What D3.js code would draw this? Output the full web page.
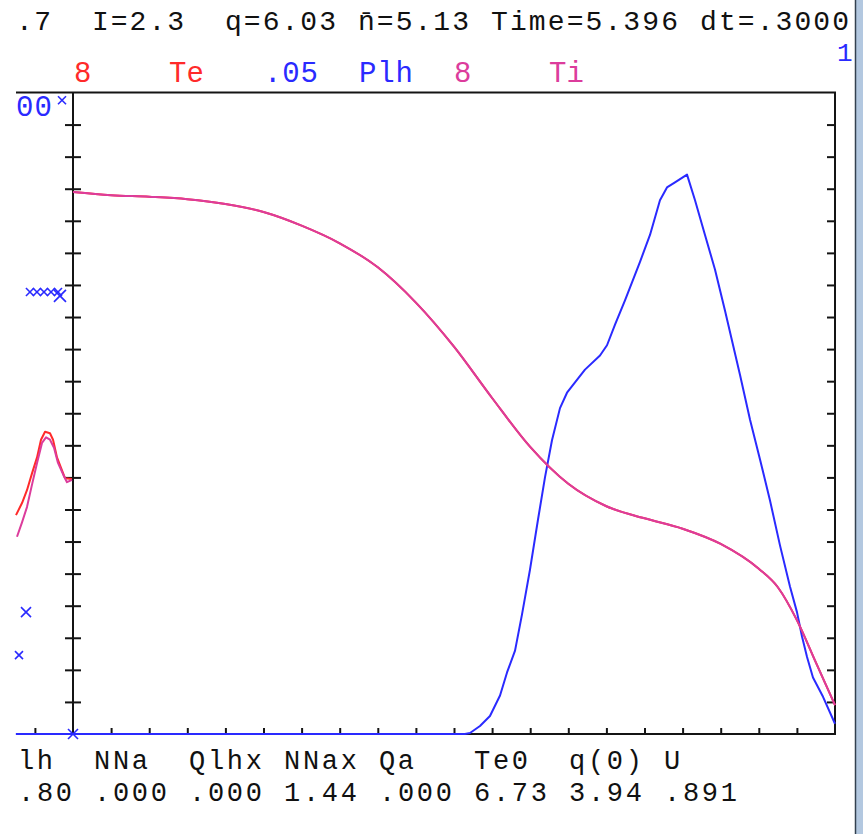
<!DOCTYPE html>
<html><head><meta charset="utf-8">
<script src="https://cdn.jsdelivr.net/npm/d3@7"></script>
<style>
html,body{margin:0;padding:0;background:#fff;}
text{font-family:"Liberation Mono","DejaVu Sans Mono",monospace;}
</style></head>
<body><svg id="c" width="863" height="834"></svg>
<script>
// ---------- data ----------
const headerTokens = [".7","I=2.3","q=6.03","n\u0304=5.13","Time=5.396","dt=.3000"];
const headerCols   = [0, 4, 11, 18, 25, 36];
const legendTokens = ["8","Te",".05","Plh","8","Ti"];
const legendCols   = [0, 5, 10, 15, 20, 25];
const legendKinds  = ["Te","Te","Plh","Plh","Ti","Ti"];
const scaleMax     = {Te: 8, Plh: 0.05, Ti: 8};
const bottomLabels = ["lh","NNa","Qlhx","NNax","Qa","Te0","q(0)","U"];
const bottomValues = [".80",".000",".000","1.44",".000","6.73","3.94",".891"];
const bottomCols   = [0, 4, 9, 14, 19, 24, 29, 34];

// radius grid (normalized) and profiles
const rProf = [0,0.05,0.10,0.15,0.20,0.25,0.30,0.35,0.40,0.45,0.50,0.55,0.60,0.65,0.70,0.75,0.80,0.85,0.90,0.925,0.95,0.975,1.0];
const TiProf = [6.76,6.72,6.70,6.67,6.61,6.51,6.34,6.12,5.82,5.38,4.83,4.19,3.58,3.12,2.84,2.69,2.56,2.37,2.06,1.83,1.42,0.89,0.36];
const TeProf = TiProf;

const rPlh = [-0.075,0.5144,0.521,0.5341,0.5472,0.5604,0.5696,0.5801,0.5892,0.5997,0.6102,0.6194,0.6286,0.6391,0.6483,0.6588,0.6719,0.6916,0.7008,0.7113,0.7244,0.7441,0.7572,0.7703,0.7795,0.79,0.8058,0.8163,0.8294,0.8425,0.8556,0.8753,0.8885,0.9016,0.9147,0.9278,0.9409,0.9501,0.9567,0.9633,0.9711,0.9843,1.0];
const PlhProf = [0,0,0.00008,0.00062,0.0014,0.0030,0.0048,0.0065,0.0093,0.0128,0.0167,0.0200,0.0229,0.0254,0.0266,0.0274,0.0284,0.0295,0.0303,0.0319,0.0338,0.0368,0.0389,0.0416,0.0426,0.0430,0.0436,0.0416,0.0389,0.0362,0.0330,0.0280,0.0245,0.0214,0.0182,0.0147,0.0115,0.0095,0.0076,0.0060,0.0044,0.0029,0.0008];

// small side traces left of the axis
const rSideTe = [-0.0748,-0.0669,-0.0604,-0.0538,-0.0472,-0.042,-0.0367,-0.0302,-0.0262,-0.021,-0.0157,-0.0105,-0.0013];
const TeSide  = [2.73,2.88,3.04,3.25,3.45,3.67,3.77,3.75,3.67,3.45,3.32,3.19,3.18];
const rSideTi = [-0.0735,-0.0669,-0.0604,-0.0538,-0.0472,-0.0407,-0.0354,-0.0302,-0.0249,-0.0197,-0.0131,-0.0079,-0.0013];
const TiSide  = [2.46,2.64,2.83,3.11,3.38,3.63,3.70,3.67,3.57,3.38,3.24,3.14,3.17];

// blue cross markers (normalized height)
const markR = [-0.0144,-0.0565,-0.0473,-0.0381,-0.0289,-0.0197,-0.0171,-0.0617,-0.0709,0];
const markV = [0.988,0.689,0.689,0.689,0.689,0.689,0.683,0.190,0.123,0];
const markS = [4,4,4,4,4,4,6,5,4,5];

// ---------- drawing ----------
const svg = d3.select("#c");
const X0 = 73, X1 = 835, Y0 = 734, Y1 = 92.5, XL = 16;
const x = d3.scaleLinear().domain([0,1]).range([X0,X1]);
const yN = d3.scaleLinear().domain([0,1]).range([Y0,Y1]);
const yS = k => d3.scaleLinear().domain([0,scaleMax[k]]).range([Y0,Y1]);
const C = {Te:"#ff2a2a", Plh:"#2a2aff", Ti:"#dc3c9c"};
const ADV = 19, FS = 29;

function mono(g, str, x0, yb, color, fs){
  const n = [...str].filter(c=>!/[\u0300-\u036f]/.test(c)).length;
  g.append("text").attr("x",x0).attr("y",yb).attr("fill",color)
   .attr("font-size",fs||FS).attr("textLength",ADV*n-3)
   .attr("lengthAdjust","spacing").text(str);
}
const tg = svg.append("g");
headerTokens.forEach((t,i)=>mono(tg,t,16+ADV*headerCols[i],30,"#111",28));
legendTokens.forEach((t,i)=>mono(tg,t,74+ADV*legendCols[i],82,C[legendKinds[i]]));
bottomLabels.forEach((t,i)=>mono(tg,t,18+ADV*bottomCols[i],769,"#111",27));
bottomValues.forEach((t,i)=>mono(tg,t,18+ADV*bottomCols[i],801,"#111",27));
tg.append("text").attr("x",837).attr("y",61).attr("fill",C.Plh).attr("font-size",26).text("1");
tg.append("text").attr("x",16).attr("y",116).attr("fill",C.Plh).attr("font-size",FS).attr("textLength",36).attr("lengthAdjust","spacing").text("00");

// window frame at right
svg.append("rect").attr("x",855).attr("y",0).attr("width",8).attr("height",834).attr("fill","#b3c8e0");
svg.append("line").attr("x1",855.5).attr("x2",855.5).attr("y1",0).attr("y2",834).attr("stroke","#33414f").attr("stroke-width",1.5);

// frame
const ax = svg.append("g").attr("stroke","#141414").attr("stroke-width",2).attr("fill","none");
ax.append("line").attr("x1",XL).attr("x2",X1+1).attr("y1",Y1).attr("y2",Y1);
ax.append("line").attr("x1",X1).attr("x2",X1).attr("y1",Y1).attr("y2",Y0+1);
ax.append("line").attr("x1",XL).attr("x2",X1+1).attr("y1",Y0).attr("y2",Y0);
ax.append("line").attr("x1",X0).attr("x2",X0).attr("y1",Y1).attr("y2",Y0);

const yTicks = d3.range(1,20).map(i=>i/20);
const xTicks = d3.range(-1,20).map(i=>i/20).filter(v=>Math.abs(v)>1e-9);
const styleAxis = g => { g.select(".domain").remove(); g.selectAll("text").remove();
  g.selectAll("line").attr("stroke","#141414").attr("stroke-width",2); };
svg.append("g").attr("transform",`translate(${X0},0)`).call(d3.axisLeft(yN).tickValues(yTicks).tickSize(8)).call(styleAxis);
svg.append("g").attr("transform",`translate(${X0},0)`).call(d3.axisRight(yN).tickValues(yTicks).tickSize(8)).call(styleAxis);
svg.append("g").attr("transform",`translate(${X1},0)`).call(d3.axisLeft(yN).tickValues(yTicks).tickSize(8)).call(styleAxis);
svg.append("g").attr("transform",`translate(0,${Y0})`).call(d3.axisTop(x).tickValues(xTicks).tickSize(6)).call(styleAxis);

// curves
const drawLine = (rs, vs, k, curve) => svg.append("path").datum(rs.map((r,i)=>[r,vs[i]]))
  .attr("d", d3.line().x(d=>x(d[0])).y(d=>yS(k)(d[1])).curve(curve||d3.curveLinear))
  .attr("fill","none").attr("stroke",C[k]).attr("stroke-width",2).attr("stroke-linejoin","round");
drawLine(rPlh, PlhProf, "Plh");
drawLine(rProf, TeProf, "Te", d3.curveMonotoneX);
drawLine(rProf, TiProf, "Ti", d3.curveMonotoneX);
drawLine(rSideTe, TeSide, "Te");
drawLine(rSideTi, TiSide, "Ti");

// markers
const mg = svg.append("g").attr("stroke",C.Plh).attr("stroke-width",1.6);
markR.forEach((r,i)=>{
  const cx = x(r), cy = yN(markV[i]), s = markS[i];
  mg.append("line").attr("x1",cx-s).attr("y1",cy-s).attr("x2",cx+s).attr("y2",cy+s);
  mg.append("line").attr("x1",cx-s).attr("y1",cy+s).attr("x2",cx+s).attr("y2",cy-s);
});
</script></body></html>
